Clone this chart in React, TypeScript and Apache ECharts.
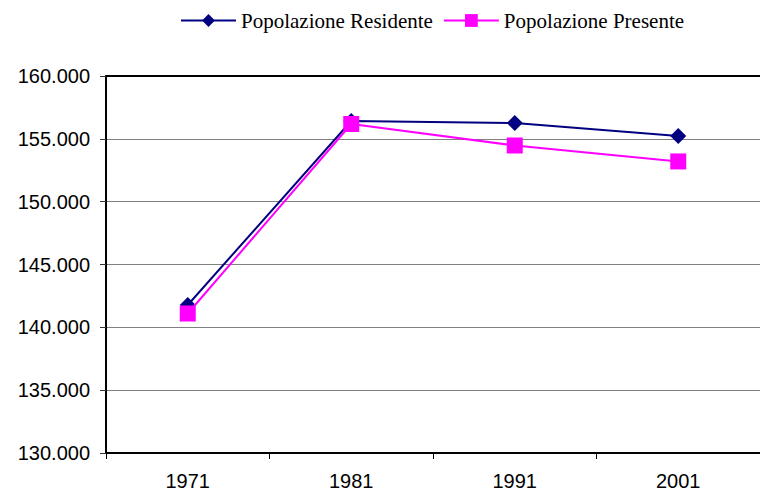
import React, { useEffect, useRef } from "react";
import * as echarts from "echarts";

const years = ["1971", "1981", "1991", "2001"];
const residente = [141780, 156420, 156260, 155220];
const presente = [141100, 156180, 154470, 153200];

export default function App() {
  const ref = useRef<HTMLDivElement>(null);
  useEffect(() => {
    const chart = echarts.init(ref.current!, null, { renderer: "svg" });
    chart.setOption({
      animation: false,
      backgroundColor: "#ffffff",
      legend: {
        top: 5,
        left: 175,
        itemWidth: 55,
        itemHeight: 16,
        itemGap: 10,
        textStyle: { fontFamily: "Liberation Serif, Times New Roman, serif", fontSize: 21, color: "#000" },
        data: ["Popolazione Residente", "Popolazione Presente"],
      },
      grid: { left: 106, top: 76, width: 657, height: 377, containLabel: false },
      xAxis: [
        {
          type: "category",
          data: years,
          boundaryGap: true,
          axisLine: { lineStyle: { color: "#000", width: 2 } },
          axisTick: { show: true, length: 6, lineStyle: { color: "#000", width: 1 } },
          axisLabel: { fontFamily: "Liberation Sans, Arial, sans-serif", fontSize: 20, color: "#000", margin: 18 },
          z: 5,
        },
        {
          type: "category",
          data: years,
          position: "top",
          axisLine: { show: true, lineStyle: { color: "#000", width: 2 } },
          axisTick: { show: false },
          axisLabel: { show: false },
          splitLine: { show: false },
          z: 5,
        },
      ],
      yAxis: {
        type: "value",
        min: 130000,
        max: 160000,
        interval: 5000,
        axisLine: { show: true, lineStyle: { color: "#000", width: 2 } },
        axisTick: { show: true, length: 6, lineStyle: { color: "#333", width: 1 } },
        splitLine: { show: true, lineStyle: { color: "#808080", width: 1 } },
        axisLabel: {
          fontFamily: "Liberation Sans, Arial, sans-serif",
          fontSize: 20,
          color: "#000",
          margin: 16,
          formatter: (v: number) => {
            const s = String(Math.round(v));
            return s.replace(/\B(?=(\d{3})+(?!\d))/g, ".");
          },
        },
        z: 5,
      },
      series: [
        {
          name: "Popolazione Residente",
          type: "line",
          data: residente,
          symbol: "diamond",
          symbolSize: 16,
          lineStyle: { color: "#000080", width: 2 },
          itemStyle: { color: "#000080" },
          z: 6,
        },
        {
          name: "Popolazione Presente",
          type: "line",
          data: presente,
          symbol: "rect",
          symbolSize: 16,
          lineStyle: { color: "#FF00FF", width: 2 },
          itemStyle: { color: "#FF00FF" },
          z: 7,
        },
      ],
    });
    return () => chart.dispose();
  }, []);
  return <div ref={ref} style={{ width: 760, height: 496, position: "absolute", left: 0, top: 0 }} />;
}
